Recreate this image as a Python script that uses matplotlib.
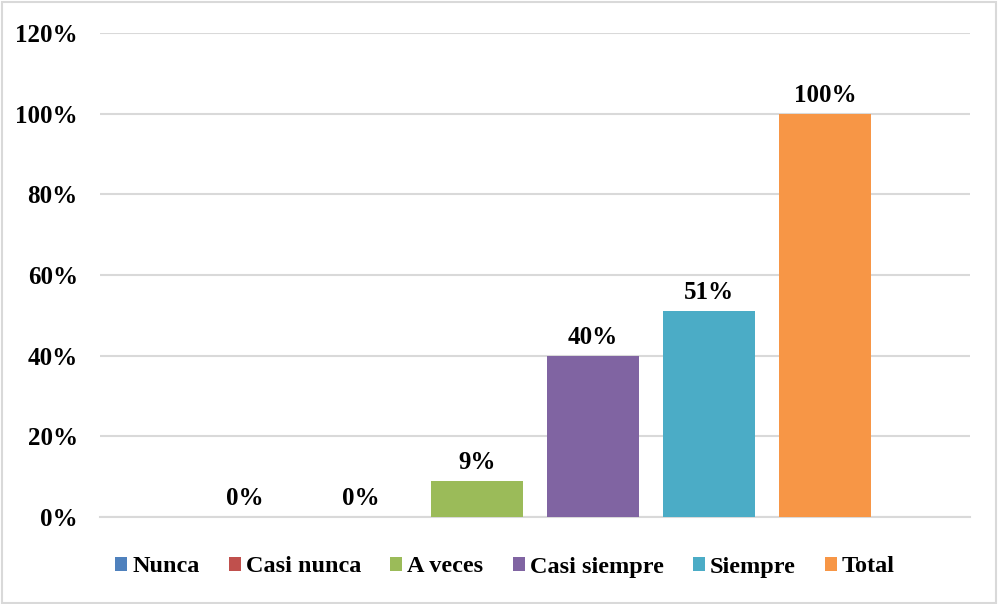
import matplotlib.pyplot as plt
from matplotlib.patches import Rectangle
from matplotlib.ticker import FuncFormatter

# Frequency responses, share of total (%)
categories = ["Nunca", "Casi nunca", "A veces", "Casi siempre", "Siempre", "Total"]
values = [0, 0, 9, 40, 51, 100]
colors = ["#4F81BD", "#C0504D", "#9BBB59", "#8064A2", "#4BACC6", "#F79646"]
y_ticks = [0, 20, 40, 60, 80, 100, 120]

plt.rcParams["font.family"] = ["Liberation Serif", "DejaVu Serif"]
plt.rcParams["font.weight"] = "bold"
FS = 18

fig = plt.figure(figsize=(9.98, 6.04), dpi=100)
ax = fig.add_axes([100 / 998, 87 / 604, 870 / 998, 484 / 604])

for i, (name, val, col) in enumerate(zip(categories, values, colors)):
    ax.bar(i, val, width=0.79, color=col, label=name, zorder=3)
    ax.annotate(f"{val}%", (i, val), xytext=(0, 5), textcoords="offset points",
                ha="center", va="bottom", fontsize=FS, fontweight="bold")

ax.set_xlim(-1.25, 6.25)
ax.set_ylim(0, 120)
ax.set_yticks(y_ticks)
ax.yaxis.set_major_formatter(FuncFormatter(lambda v, _: f"{v:.0f}%"))
ax.set_xticks([])
ax.grid(axis="y", color="#D9D9D9", linewidth=1.5, zorder=0)
ax.tick_params(axis="y", length=0, pad=16, labelsize=FS)
for lbl in ax.get_yticklabels():
    lbl.set_fontweight("bold")
for side in ("top", "right", "left"):
    ax.spines[side].set_visible(False)
ax.spines["bottom"].set_color("#D9D9D9")
ax.spines["bottom"].set_linewidth(1.5)

fig.legend(loc="center", bbox_to_anchor=(505 / 998, 1 - 567 / 604), ncol=6,
           frameon=False, prop={"size": 17.5, "weight": "bold"},
           handlelength=0.5, handleheight=0.5, handletextpad=0.2,
           columnspacing=1.2)

# light outer frame around the chart
fig.patches.append(Rectangle((0.002, 0.002), 0.996, 0.995, transform=fig.transFigure,
                             fill=False, edgecolor="#D9D9D9", linewidth=1.5))

fig.savefig("out.png", dpi=100)
